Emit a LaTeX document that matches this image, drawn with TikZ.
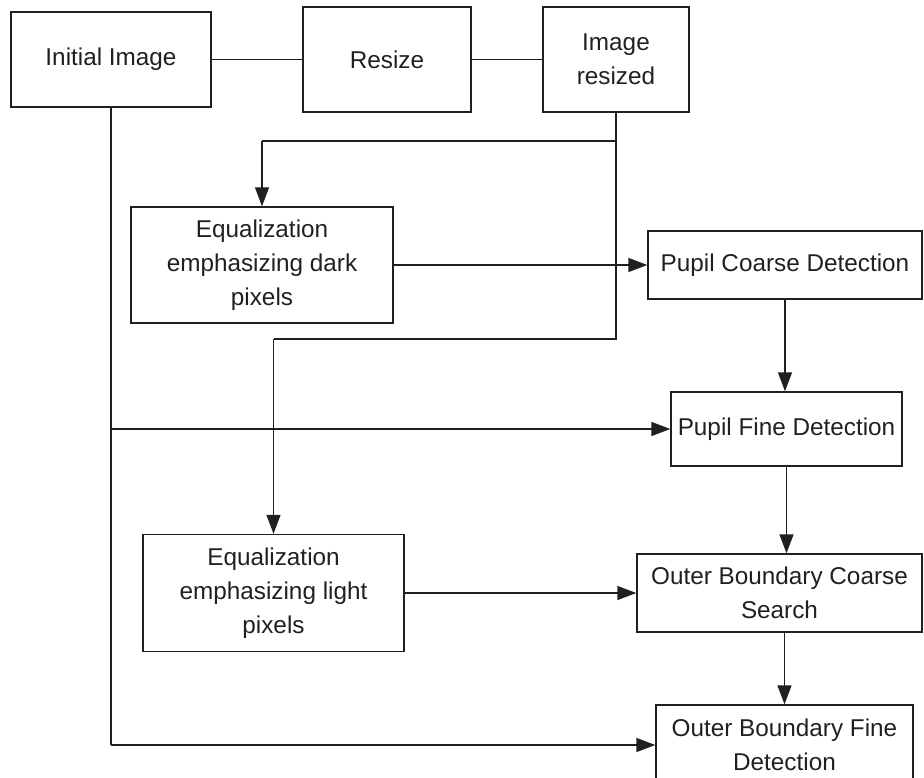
\documentclass[tikz,border=0pt]{standalone}
\usepackage{fontspec}
\setmainfont{Liberation Sans}
\usetikzlibrary{arrows.meta}
\definecolor{ink}{HTML}{231F20}
\begin{document}
\begin{tikzpicture}[x=1pt,y=-1pt,
  box/.style={draw=ink, line width=1.4pt, rectangle, inner sep=0pt, align=center,
    text=ink, font=\fontsize{24.3}{34}\selectfont},
  conn/.style={draw=ink, line width=1.4pt},
  arr/.style={conn, -{Triangle[length=19pt,width=14pt]}}]
\path[use as bounding box] (0,0) rectangle (924,778);
\clip (0,0) rectangle (924,778);
\node[box, minimum width=200pt, minimum height=95pt] (init) at (111,59.5) {Initial Image};
\node[box, minimum width=168pt, minimum height=105pt] (resize) at (387,59.5) {Resize};
\node[box, minimum width=146pt, minimum height=105pt] (imgres) at (616,59.5) {Image\\resized};
\node[box, minimum width=262pt, minimum height=116pt] (eqdark) at (262,265) {Equalization\\emphasizing dark\\pixels};
\node[box, minimum width=274pt, minimum height=68pt] (pcoarse) at (785,265) {Pupil Coarse Detection};
\node[box, minimum width=231pt, minimum height=74pt] (pfine) at (786.5,429) {Pupil Fine Detection};
\node[box, minimum width=261pt, minimum height=117pt] (eqlight) at (273.5,593) {Equalization\\emphasizing light\\pixels};
\node[box, minimum width=285pt, minimum height=78pt] (ocoarse) at (779.5,593) {Outer Boundary Coarse\\Search};
\node[box, minimum width=257pt, minimum height=80pt] (ofine) at (784.5,745) {Outer Boundary Fine\\Detection};

\coordinate (rbranch) at (616,141);
\coordinate (rbend) at (616,339);
\coordinate (dbend) at (262,141);
\coordinate (lbend) at (273.5,339);
\coordinate (ibranch) at (111,429);
\coordinate (ibend) at (111,745);

\draw[conn] (init.east) -- (resize.west);
\draw[conn] (resize.east) -- (imgres.west);
\draw[conn] (imgres.south) -- (rbend) -- (lbend);
\draw[arr] (lbend) -- (eqlight.north);
\draw[conn] (rbranch) -- (dbend);
\draw[arr] (dbend) -- (eqdark.north);
\draw[arr] (eqdark.east) -- (pcoarse.west);
\draw[arr] (pcoarse.south) -- (pcoarse.south |- pfine.north);
\draw[arr] (pfine.south) -- (pfine.south |- ocoarse.north);
\draw[arr] (ofine.north |- ocoarse.south) -- (ofine.north);
\draw[arr] (eqlight.east) -- (ocoarse.west);
\draw[conn] (init.south) -- (ibend);
\draw[arr] (ibend) -- (ofine.west);
\draw[arr] (ibranch) -- (pfine.west);
\end{tikzpicture}
\end{document}
